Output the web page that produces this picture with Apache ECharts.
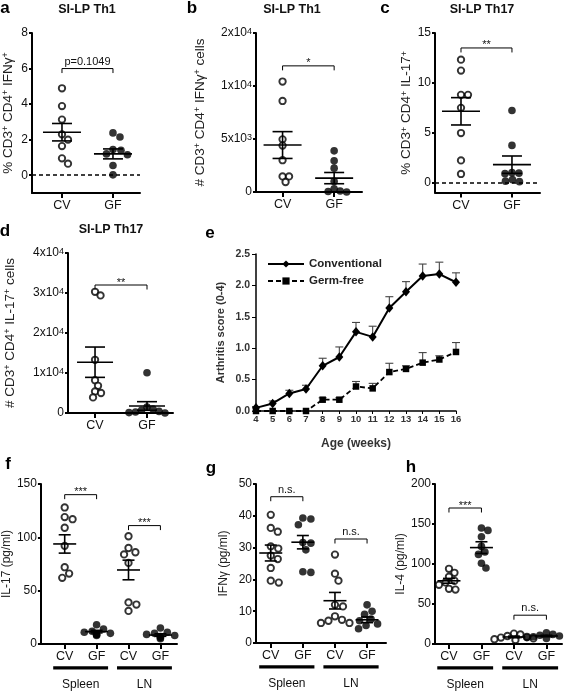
<!DOCTYPE html>
<html><head><meta charset="utf-8">
<script src="https://cdn.jsdelivr.net/npm/echarts@6/dist/echarts.min.js"></script>
<style>html,body{margin:0;padding:0;background:#fff}#c{width:567px;height:692px}</style>
</head><body><div id="c"></div><script>
// ================= DATA =================
const groupLabels = ['CV', 'GF'];
const cytoLabels = ['CV', 'GF', 'CV', 'GF'];
const tissues = ['Spleen', 'LN'];

// a: SI-LP Th1, % CD3+ CD4+ IFNγ+
const a_cv = [4.89, 3.89, 3.13, 2.30, 2.00, 1.64, 0.95, 0.65];
const a_gf = [2.38, 2.15, 1.45, 1.40, 1.20, 1.15, 0.55, 0.02];
const a_mean = [2.42, 1.20];
const a_sem = [0.49, 0.28];
const a_yTicks = [0, 2, 4, 6, 8];
const a_sigY = [6];
const a_sigText = ['p=0.1049'];

// b: SI-LP Th1, # CD3+ CD4+ IFNγ+ cells (axis compressed above 1x10^4)
const b_cv = [10840, 8590, 4970, 4380, 3000, 1470, 1470, 940];
const b_gf = [3880, 2940, 2250, 1000, 300, 100, 50, 0];
const b_mean = [4430, 1310];
const b_sem = [1265, 530];
const b_yTicks = [0, 5000, 10000, 20000];
const b_yTickLabels = ['0', '5x10{s|3}', '1x10{s|4}', '2x10{s|4}'];
const b_sigY = [13800];
const b_sigText = ['*'];

// c: SI-LP Th17, % CD3+ CD4+ IL-17+
const c_cv = [12.33, 11.23, 8.80, 8.80, 7.50, 4.97, 2.23, 0.87];
const c_gf = [7.23, 3.73, 1.00, 0.95, 0.90, 0.30, 0.15, 0.10];
const c_mean = [7.15, 1.80];
const c_sem = [1.37, 0.87];
const c_yTicks = [0, 5, 10, 15];
const c_sigY = [13.5];
const c_sigText = ['**'];

// d: SI-LP Th17, # CD3+ CD4+ IL-17+ cells
const d_cv = [30300, 29400, 13300, 8200, 6800, 5400, 5000, 3900];
const d_gf = [10080, 1500, 1000, 700, 400, 250, 100, 0];
const d_mean = [12700, 1750];
const d_sem = [3790, 1080];
const d_yTicks = [0, 10000, 20000, 30000, 40000];
const d_yTickLabels = ['0', '1x10{s|4}', '2x10{s|4}', '3x10{s|4}', '4x10{s|4}'];
const d_sigY = [32000];
const d_sigText = ['**'];

// e: Arthritis score
const e_weeks = [4, 5, 6, 7, 8, 9, 10, 11, 12, 13, 14, 15, 16];
const e_conv = [0.05, 0.12, 0.28, 0.35, 0.72, 0.86, 1.26, 1.18, 1.64, 1.90, 2.15, 2.18, 2.05];
const e_convErr = [0.02, 0.04, 0.05, 0.06, 0.12, 0.16, 0.15, 0.17, 0.18, 0.16, 0.19, 0.19, 0.15];
const e_gf = [0, 0, 0, 0, 0.18, 0.18, 0.39, 0.36, 0.62, 0.67, 0.77, 0.82, 0.94];
const e_gfErr = [0, 0, 0, 0, 0.03, 0.03, 0.08, 0.08, 0.14, 0.05, 0.16, 0.06, 0.15];
const e_seriesNames = ['Conventional', 'Germ-free'];

// f: IL-17 (pg/ml)
const f_spleenCV = [128, 119, 117, 109, 92, 72, 66, 62];
const f_spleenGF = [18, 14, 12, 11, 10, 9, 9, 8];
const f_lnCV = [101, 90, 86, 84, 76, 39, 37, 31];
const f_lnGF = [15, 11, 10, 9, 8, 7, 6, 5];
const f_mean = [93.8, 11.6, 69.4, 8.4];
const f_sem = [8.6, 1.2, 9.2, 1.2];
const f_yTicks = [0, 50, 100, 150];
const f_sigY = [140, 111];
const f_sigText = ['***', '***'];

// g: IFNγ (pg/ml)
const g_spleenCV = [40.3, 36.2, 35.0, 30.4, 29.7, 27.5, 26.4, 23.6, 19.6, 19.0];
const g_spleenGF = [39.3, 39.0, 37.2, 31.6, 31.4, 29.3, 22.4, 22.2];
const g_lnCV = [27.8, 21.8, 19.6, 12.0, 11.5, 8.4, 7.3, 7.0, 6.3, 6.3];
const g_lnGF = [12.0, 10.0, 9.0, 7.5, 7.0, 6.0, 5.5, 4.5];
const g_mean = [28.3, 31.7, 13.3, 7.3];
const g_sem = [2.5, 2.1, 2.6, 0.9];
const g_yTicks = [0, 10, 20, 30, 40, 50];
const g_sigY = [46, 32.7];
const g_sigText = ['n.s.', 'n.s.'];

// h: IL-4 (pg/ml)
const h_spleenCV = [94, 89, 84, 79, 77, 74, 69, 68];
const h_spleenGF = [145, 142, 134, 122, 115, 112, 101, 95];
const h_lnCV = [13, 12, 10, 9, 8, 7, 6, 5];
const h_lnGF = [14, 12, 11, 10, 9, 9, 8, 7];
const h_mean = [79, 120.5, 8.8, 10];
const h_sem = [3, 7.3, 1, 0.9];
const h_yTicks = [0, 50, 100, 150, 200];
const h_sigY = [170, 36];
const h_sigText = ['***', 'n.s.'];

// ================= BUILD =================
const FONT = '"Liberation Sans", Arial, Helvetica, sans-serif';
const SUP = { s: { fontSize: 9, verticalAlign: 'top', lineHeight: 12, fontFamily: FONT } };
const grids = [], xAxes = [], yAxes = [], series = [], graphics = [];

function beeswarm(vals, pxPerY, diam) {
  const placed = [], res = new Array(vals.length);
  const order = vals.map((v, i) => i).sort((i, j) => vals[j] - vals[i]);
  for (const i of order) {
    const y = vals[i] * pxPerY;
    let best = 0;
    for (let k = 0; k < 80; k++) {
      const cand = k === 0 ? 0 : (k % 2 ? 1 : -1) * Math.ceil(k / 2) * 0.5;
      if (placed.every(p => (p.x - cand) ** 2 + (p.y - y) ** 2 >= diam * diam)) { best = cand; break; }
    }
    placed.push({ x: best, y }); res[i] = best;
  }
  return res;
}

function scatterPanel(p) {
  const gi = grids.length;
  const tf = p.tf || (v => v);
  grids.push({ left: p.left, top: p.top, width: p.width, height: p.height });
  const pxX = p.width / (p.xMax - p.xMin), pxY = p.height / (p.yMax - p.yMin);
  const cats = p.groups.map(g => g.x);
  const tickVals = p.yTicks.map(tf);
  xAxes.push({
    gridIndex: gi, type: 'value', min: p.xMin, max: p.xMax,
    axisLine: { show: true, onZero: false, lineStyle: { color: '#000', width: 2 } },
    axisTick: { show: true, customValues: cats, length: 5, lineStyle: { color: '#000', width: 2 } },
    axisLabel: { customValues: cats, formatter: v => p.catLabels[Math.round(v) - 1], fontSize: 12.5, color: '#111', margin: 6, fontFamily: FONT },
    splitLine: { show: false }
  });
  yAxes.push({
    gridIndex: gi, type: 'value', min: p.yMin, max: p.yMax,
    axisLine: { show: true, onZero: false, lineStyle: { color: '#000', width: 2 } },
    axisTick: { show: true, customValues: tickVals, length: 3, lineStyle: { color: '#000', width: 2 } },
    axisLabel: {
      customValues: tickVals, fontSize: 12, color: '#111', margin: 4, fontFamily: FONT, rich: SUP,
      formatter: v => {
        const i = tickVals.findIndex(t => Math.abs(t - v) < 1e-6);
        return p.yTickLabels ? p.yTickLabels[i] : String(p.yTicks[i]);
      }
    },
    splitLine: { show: false },
    name: p.yName, nameLocation: 'middle', nameGap: p.nameGap, nameRotate: 90,
    nameTextStyle: { fontSize: p.nameSize || 12, color: '#222', fontFamily: FONT, rich: SUP }
  });
  p.groups.forEach((g, gi2) => {
    const tv = g.vals.map(tf);
    const offs = beeswarm(tv, pxY, p.diam || 7.8);
    const s = {
      type: 'scatter', xAxisIndex: gi, yAxisIndex: gi, z: 3, symbol: 'circle',
      symbolSize: g.filled ? 7.6 : 6.4,
      itemStyle: g.filled ? { color: '#000' } : { color: '#fff', borderColor: '#000', borderWidth: 1.9 },
      data: tv.map((v, i) => [g.x + offs[i] / pxX, v])
    };
    if (p.zeroLine && gi2 === 0) {
      s.markLine = { silent: true, symbol: 'none', label: { show: false }, animation: false,
        lineStyle: { type: [4, 3], color: '#000', width: 1.6 }, data: [{ yAxis: 0 }] };
    }
    series.push(s);
  });
  // mean ± SEM
  const hw = p.meanHW, cw = p.capHW;
  series.push({
    type: 'custom', xAxisIndex: gi, yAxisIndex: gi, z: 4,
    data: p.groups.map((g, i) => [g.x, tf(p.means[i]), tf(p.means[i] + p.sems[i]), tf(Math.max(p.means[i] - p.sems[i], p.yMin))]),
    renderItem: (params, api) => {
      const x = api.value(0);
      const m = api.coord([x, api.value(1)]), t = api.coord([x, api.value(2)]), b = api.coord([x, api.value(3)]);
      const st = { stroke: '#000', lineWidth: 1.6 };
      return { type: 'group', children: [
        { type: 'line', shape: { x1: m[0] - hw, y1: m[1], x2: m[0] + hw, y2: m[1] }, style: st },
        { type: 'line', shape: { x1: t[0], y1: t[1], x2: b[0], y2: b[1] }, style: st },
        { type: 'line', shape: { x1: t[0] - cw, y1: t[1], x2: t[0] + cw, y2: t[1] }, style: st },
        { type: 'line', shape: { x1: b[0] - cw, y1: b[1], x2: b[0] + cw, y2: b[1] }, style: st }
      ] };
    }
  });
  // significance brackets
  series.push({
    type: 'custom', xAxisIndex: gi, yAxisIndex: gi, z: 5,
    data: p.sigY.map((y, i) => [p.sigPairs[i][0], tf(y)]),
    renderItem: (params, api) => {
      const i = params.dataIndex, pr = p.sigPairs[i], yv = tf(p.sigY[i]);
      const p1 = api.coord([pr[0], yv]), p2 = api.coord([pr[1], yv]);
      const txt = p.sigText[i], star = txt.indexOf('*') >= 0;
      return { type: 'group', children: [
        { type: 'polyline', shape: { points: [[p1[0], p1[1] + 4.5], [p1[0], p1[1]], [p2[0], p2[1]], [p2[0], p2[1] + 4.5]] },
          style: { stroke: '#000', fill: null, lineWidth: 1 } },
        { type: 'text', x: (p1[0] + p2[0]) / 2, y: star ? p1[1] + 3 : p1[1] - 1.5,
          style: { text: txt, align: 'center', verticalAlign: 'bottom', fontSize: 11, fontFamily: FONT, fill: '#111' } }
      ] };
    }
  });
  // tissue group bars
  if (p.tissueGroups) {
    series.push({
      type: 'custom', xAxisIndex: gi, yAxisIndex: gi, z: 5,
      data: p.tissueGroups.map(tg => [tg[0], p.yMin]),
      renderItem: (params, api) => {
        const tg = p.tissueGroups[params.dataIndex];
        const l = api.coord([tg[0] - 0.36, p.yMin]), r = api.coord([tg[1] + 0.36, p.yMin]);
        return { type: 'group', children: [
          { type: 'rect', shape: { x: l[0], y: l[1] + 22.3, width: r[0] - l[0], height: 3.3 }, style: { fill: '#000' } },
          { type: 'text', x: (l[0] + r[0]) / 2, y: l[1] + 41,
            style: { text: tissues[params.dataIndex], align: 'center', verticalAlign: 'middle', fontSize: 12, fontFamily: FONT, fill: '#111' } }
        ] };
      }
    });
  }
}

const pair2 = [[1, 2]];
// a
scatterPanel({ left: 32, top: 33, width: 108, height: 160, xMin: 0.412, xMax: 2.53, yMin: -1, yMax: 8,
  yTicks: a_yTicks, catLabels: groupLabels, yName: '% CD3{s|+} CD4{s|+} IFNγ{s|+}', nameGap: 17, nameSize: 13.5, zeroLine: true,
  groups: [{ x: 1, vals: a_cv, filled: false }, { x: 2, vals: a_gf, filled: true }],
  means: a_mean, sems: a_sem, meanHW: 19, capHW: 10, sigY: a_sigY, sigText: a_sigText, sigPairs: pair2 });
// b
const tfB = v => v <= 10000 ? v : 10000 + (v - 10000) / 2;
scatterPanel({ left: 256, top: 33, width: 106, height: 159, xMin: 0.485, xMax: 2.54, yMin: 0, yMax: tfB(20000), tf: tfB,
  yTicks: b_yTicks, yTickLabels: b_yTickLabels, catLabels: groupLabels, yName: '# CD3{s|+} CD4{s|+} IFNγ{s|+} cells', nameGap: 49, nameSize: 13.5, diam: 6.2,
  groups: [{ x: 1, vals: b_cv, filled: false }, { x: 2, vals: b_gf, filled: true }],
  means: b_mean, sems: b_sem, meanHW: 19, capHW: 10, sigY: b_sigY, sigText: b_sigText, sigPairs: pair2 });
// c
scatterPanel({ left: 435, top: 33, width: 105, height: 159.6, xMin: 0.49, xMax: 2.55, yMin: -1, yMax: 15,
  yTicks: c_yTicks, catLabels: groupLabels, yName: '% CD3{s|+} CD4{s|+} IL-17{s|+}', nameGap: 20, nameSize: 13.5, diam: 7,
  zeroLine: true,
  groups: [{ x: 1, vals: c_cv, filled: false }, { x: 2, vals: c_gf, filled: true }],
  means: c_mean, sems: c_sem, meanHW: 19, capHW: 10, sigY: c_sigY, sigText: c_sigText, sigPairs: pair2 });
// d
scatterPanel({ left: 68, top: 253, width: 105, height: 160, xMin: 0.48, xMax: 2.5, yMin: 0, yMax: 40000,
  yTicks: d_yTicks, yTickLabels: d_yTickLabels, catLabels: groupLabels, yName: '# CD3{s|+} CD4{s|+} IL-17{s|+} cells', nameGap: 51, nameSize: 13.5, diam: 6.2,
  groups: [{ x: 1, vals: d_cv, filled: false }, { x: 2, vals: d_gf, filled: true }],
  means: d_mean, sems: d_sem, meanHW: 18, capHW: 10, sigY: d_sigY, sigText: d_sigText, sigPairs: pair2 });

const pair4 = [[1, 2], [3, 4]];
// f
scatterPanel({ left: 39, top: 484, width: 138, height: 160, xMin: 0.255, xMax: 4.52, yMin: 0, yMax: 150,
  yTicks: f_yTicks, catLabels: cytoLabels, yName: 'IL-17 (pg/ml)', nameGap: 25,
  groups: [{ x: 1, vals: f_spleenCV, filled: false }, { x: 2, vals: f_spleenGF, filled: true },
           { x: 3, vals: f_lnCV, filled: false }, { x: 4, vals: f_lnGF, filled: true }],
  means: f_mean, sems: f_sem, meanHW: 11.5, capHW: 6, sigY: f_sigY, sigText: f_sigText, sigPairs: pair4, tissueGroups: pair4 });
// g
scatterPanel({ left: 256, top: 484, width: 130, height: 159, xMin: 0.54, xMax: 4.59, yMin: 0, yMax: 50,
  yTicks: g_yTicks, catLabels: cytoLabels, yName: 'IFNγ (pg/ml)', nameGap: 26,
  groups: [{ x: 1, vals: g_spleenCV, filled: false }, { x: 2, vals: g_spleenGF, filled: true },
           { x: 3, vals: g_lnCV, filled: false }, { x: 4, vals: g_lnGF, filled: true }],
  means: g_mean, sems: g_sem, meanHW: 11.5, capHW: 6, sigY: g_sigY, sigText: g_sigText, sigPairs: pair4, tissueGroups: pair4 });
// h
scatterPanel({ left: 435, top: 484, width: 127, height: 160, xMin: 0.57, xMax: 4.48, yMin: 0, yMax: 200,
  yTicks: h_yTicks, catLabels: cytoLabels, yName: 'IL-4 (pg/ml)', nameGap: 25, diam: 6.5,
  groups: [{ x: 1, vals: h_spleenCV, filled: false }, { x: 2, vals: h_spleenGF, filled: true },
           { x: 3, vals: h_lnCV, filled: false }, { x: 4, vals: h_lnGF, filled: true }],
  means: h_mean, sems: h_sem, meanHW: 11.5, capHW: 6, sigY: h_sigY, sigText: h_sigText, sigPairs: pair4, tissueGroups: pair4 });

// e: arthritis line chart
(function () {
  const gi = grids.length;
  grids.push({ left: 256, top: 254, width: 200, height: 157 });
  xAxes.push({ gridIndex: gi, type: 'value', min: 4, max: 16, interval: 1,
    axisLine: { show: true, onZero: false, lineStyle: { color: '#000', width: 1.5 } },
    axisTick: { show: true, length: 3, lineStyle: { color: '#000', width: 1 } },
    axisLabel: { fontSize: 9.5, fontWeight: 'bold', color: '#333', margin: 3, fontFamily: FONT },
    splitLine: { show: false },
    name: 'Age (weeks)', nameLocation: 'middle', nameGap: 27,
    nameTextStyle: { fontSize: 12, fontWeight: 'bold', color: '#333', fontFamily: FONT } });
  yAxes.push({ gridIndex: gi, type: 'value', min: 0, max: 2.5, interval: 0.5,
    axisLine: { show: true, onZero: false, lineStyle: { color: '#000', width: 1.5 } },
    axisTick: { show: true, length: 4, lineStyle: { color: '#000', width: 1 } },
    axisLabel: { fontSize: 10.5, fontWeight: 'bold', color: '#333', margin: 6, fontFamily: FONT, formatter: v => v.toFixed(1) },
    splitLine: { show: false },
    name: 'Arthritis score (0-4)', nameLocation: 'middle', nameGap: 30, nameRotate: 90,
    nameTextStyle: { fontSize: 11, fontWeight: 'bold', color: '#333', fontFamily: FONT } });
  const errRender = (params, api) => {
    const base = api.coord([api.value(0), api.value(1)]), top = api.coord([api.value(0), api.value(2)]);
    const st = { stroke: '#444', lineWidth: 1.1 };
    return { type: 'group', children: [
      { type: 'line', shape: { x1: base[0], y1: base[1], x2: top[0], y2: top[1] }, style: st },
      { type: 'line', shape: { x1: top[0] - 4, y1: top[1], x2: top[0] + 4, y2: top[1] }, style: st }
    ] };
  };
  series.push({ type: 'custom', xAxisIndex: gi, yAxisIndex: gi, z: 1,
    data: e_weeks.map((w, i) => [w, e_conv[i], e_conv[i] + e_convErr[i]]), renderItem: errRender });
  series.push({ type: 'custom', xAxisIndex: gi, yAxisIndex: gi, z: 1,
    data: e_weeks.map((w, i) => [w, e_gf[i], e_gf[i] + e_gfErr[i]]), renderItem: errRender });
  series.push({ name: e_seriesNames[0], type: 'line', xAxisIndex: gi, yAxisIndex: gi, z: 2,
    data: e_weeks.map((w, i) => [w, e_conv[i]]), symbol: 'diamond', symbolSize: [8, 9.5], showSymbol: true,
    itemStyle: { color: '#000' }, lineStyle: { color: '#000', width: 2 } });
  series.push({ name: e_seriesNames[1], type: 'line', xAxisIndex: gi, yAxisIndex: gi, z: 2,
    data: e_weeks.map((w, i) => [w, e_gf[i]]), symbol: 'rect', symbolSize: 6.5, showSymbol: true,
    itemStyle: { color: '#000' }, lineStyle: { color: '#000', width: 1.8, type: [5, 3] } });
})();

// panel letters & titles
const letters = [['a', 5, 8], ['b', 192, 8], ['c', 385, 8], ['d', 5, 231], ['e', 210, 233], ['f', 8, 464.5], ['g', 211, 468], ['h', 411, 467.5]];
letters.forEach(l => graphics.push({ type: 'text', x: l[1], y: l[2],
  style: { text: l[0], align: 'center', verticalAlign: 'middle', font: 'bold 17px ' + FONT, fill: '#000' } }));
const titles = [['SI-LP Th1', 87, 10], ['SI-LP Th1', 292, 10], ['SI-LP Th17', 482, 10], ['SI-LP Th17', 111, 230]];
titles.forEach(t => graphics.push({ type: 'text', x: t[1], y: t[2],
  style: { text: t[0], align: 'center', verticalAlign: 'middle', font: 'bold 12.5px ' + FONT, fill: '#111' } }));

const chart = echarts.init(document.getElementById('c'), null, { renderer: 'canvas' });
chart.setOption({
  animation: false,
  backgroundColor: '#fff',
  textStyle: { fontFamily: FONT },
  grid: grids, xAxis: xAxes, yAxis: yAxes, series: series, graphic: graphics,
  legend: { data: e_seriesNames, left: 262, top: 253, orient: 'vertical', itemWidth: 36, itemHeight: 9, itemGap: 5,
    textStyle: { fontSize: 11.5, fontWeight: 'bold', color: '#222', fontFamily: FONT } }
});
</script></body></html>
